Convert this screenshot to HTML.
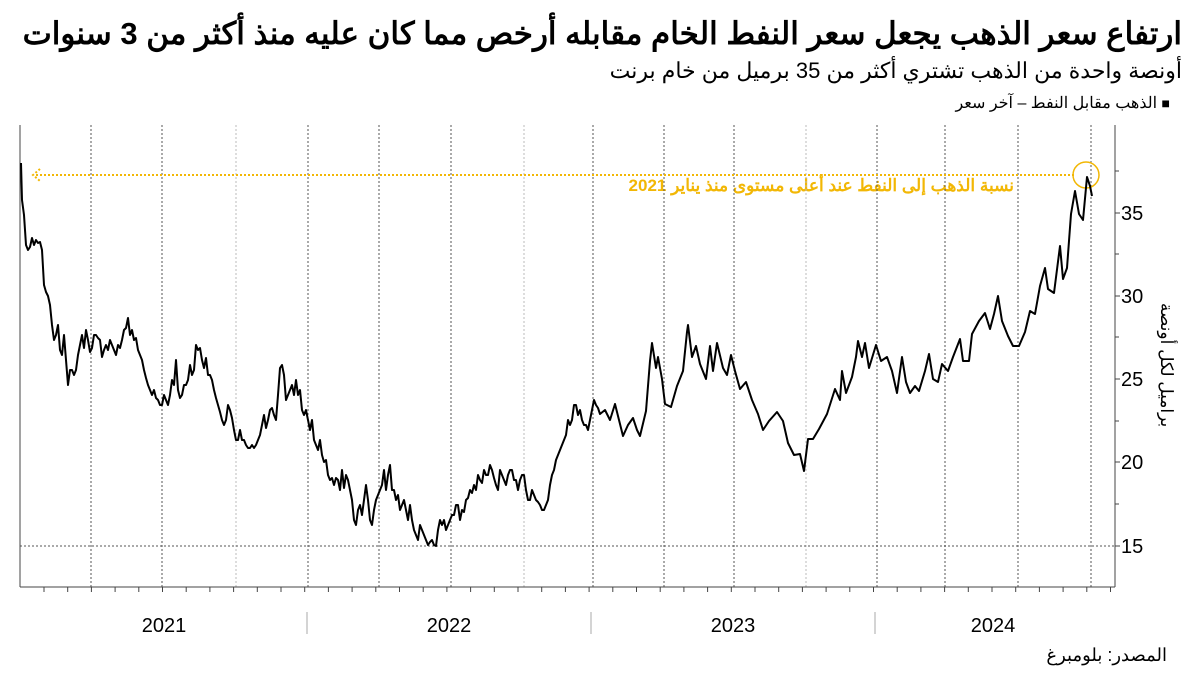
<!DOCTYPE html>
<html><head><meta charset="utf-8">
<style>
body{margin:0;width:1200px;height:675px;background:#fff;position:relative;overflow:hidden;font-family:"Liberation Sans","Noto Sans CJK SC",sans-serif;}
.t{position:absolute;direction:rtl;white-space:nowrap;color:#000;}
</style></head><body>
<div class="t" style="right:18px;top:16px;font-size:31px;font-weight:bold;">ارتفاع سعر الذهب يجعل سعر النفط الخام مقابله أرخص مما كان عليه منذ أكثر من 3 سنوات</div>
<div class="t" style="right:18px;top:58px;font-size:22px;">أونصة واحدة من الذهب تشتري أكثر من 35 برميل من خام برنت</div>
<div class="t" style="right:30px;top:93px;font-size:16px;"><span style="font-size:14px">■</span> الذهب مقابل النفط – آخر سعر</div>
<div class="t" style="right:186px;top:176px;font-size:17px;font-weight:bold;color:#f2b705;">نسبة الذهب إلى النفط عند أعلى مستوى منذ يناير 2021</div>
<div class="t" style="right:33px;top:645px;font-size:18px;">المصدر: بلومبرغ</div>
<div class="t" style="left:1166px;top:365px;font-size:17px;transform:translate(-50%,-50%) rotate(90deg);transform-origin:center;">براميل لكل أونصة</div>
<svg width="1200" height="675" style="position:absolute;left:0;top:0" xmlns="http://www.w3.org/2000/svg">
<g stroke="#555" stroke-width="1" stroke-dasharray="2,2">
<line x1="91" y1="125" x2="91" y2="587"/><line x1="162" y1="125" x2="162" y2="587"/><line x1="236" y1="125" x2="236" y2="587" stroke="#bbb"/><line x1="308" y1="125" x2="308" y2="587"/><line x1="379" y1="125" x2="379" y2="587"/><line x1="451" y1="125" x2="451" y2="587"/><line x1="524" y1="125" x2="524" y2="587" stroke="#bbb"/><line x1="593" y1="125" x2="593" y2="587"/><line x1="664" y1="125" x2="664" y2="587"/><line x1="734" y1="125" x2="734" y2="587"/><line x1="806" y1="125" x2="806" y2="587" stroke="#bbb"/><line x1="877" y1="125" x2="877" y2="587"/><line x1="945" y1="125" x2="945" y2="587"/><line x1="1018" y1="125" x2="1018" y2="587"/><line x1="1091" y1="125" x2="1091" y2="587"/>
<line x1="20" y1="546" x2="1115" y2="546"/>
</g>
<line x1="20" y1="125" x2="20" y2="587" stroke="#444"/>
<line x1="20" y1="587" x2="1115" y2="587" stroke="#444"/>
<line x1="1115" y1="125" x2="1115" y2="587" stroke="#444"/>
<g stroke="#444">
<line x1="1115" y1="213" x2="1120" y2="213"/><line x1="1115" y1="296" x2="1120" y2="296"/><line x1="1115" y1="379" x2="1120" y2="379"/><line x1="1115" y1="462" x2="1120" y2="462"/><line x1="1115" y1="546" x2="1120" y2="546"/>
<line x1="1115" y1="171" x2="1119" y2="171"/><line x1="1115" y1="254" x2="1119" y2="254"/><line x1="1115" y1="337" x2="1119" y2="337"/><line x1="1115" y1="421" x2="1119" y2="421"/><line x1="1115" y1="504" x2="1119" y2="504"/>
<line x1="307" y1="612" x2="307" y2="634" stroke="#aaa"/><line x1="591" y1="612" x2="591" y2="634" stroke="#aaa"/><line x1="875" y1="612" x2="875" y2="634" stroke="#aaa"/>
</g>
<g stroke="#444" id="mt"></g>
<g font-size="20" fill="#000" font-family="Liberation Sans, sans-serif">
<text x="1121" y="220">35</text><text x="1121" y="303">30</text><text x="1121" y="386">25</text><text x="1121" y="469">20</text><text x="1121" y="553">15</text>
<text x="164" y="632" text-anchor="middle">2021</text><text x="449" y="632" text-anchor="middle">2022</text><text x="733" y="632" text-anchor="middle">2023</text><text x="993" y="632" text-anchor="middle">2024</text>
</g>
<line x1="36" y1="175" x2="1075" y2="175" stroke="#f2b705" stroke-width="2" stroke-dasharray="2,2"/>
<path d="M40,169 L33,175 L40,181" fill="none" stroke="#f2b705" stroke-width="2" stroke-dasharray="2,2"/>
<circle cx="1086" cy="175" r="13" fill="none" stroke="#f2b705" stroke-width="1.5"/>
<polyline fill="none" stroke="#000" stroke-width="2" stroke-linejoin="round" points="21,163 22,200 24,215 26,245 28,250 30,247 32,238 34,245 36,240 38,243 40,242 42,250 44,285 46,292 48,296 50,305 52,325 54,340 56,335 58,325 60,350 62,355 64,335 66,360 68,385 70,370 72,370 74,375 76,370 78,355 80,345 82,335 84,348 86,330 88,340 90,352 92,348 94,335 96,335 98,338 100,340 102,357 104,350 106,345 108,350 110,340 112,345 114,350 116,355 118,345 120,348 122,340 124,330 126,328 128,318 130,335 132,330 134,340 136,338 138,350 140,355 142,360 144,370 146,378 148,385 150,390 152,395 154,390 156,398 158,400 160,405 162,405 164,395 166,400 168,405 170,395 172,380 174,385 176,360 178,390 180,398 182,395 184,385 186,385 188,380 190,365 192,375 194,370 196,345 198,350 200,348 202,360 204,368 206,358 208,375 210,375 212,380 214,390 216,398 218,405 220,412 222,420 224,425 226,420 228,405 230,410 232,418 234,430 236,440 238,440 240,430 242,440 244,440 246,445 248,448 250,448 252,445 254,448 256,445 258,440 260,435 262,425 264,415 266,428 268,420 270,410 272,408 274,415 276,420 278,395 280,368 282,365 284,375 286,400 288,395 290,390 292,385 294,395 296,380 298,395 300,390 302,410 304,415 306,410 308,420 310,430 312,420 314,440 316,445 318,450 320,440 322,455 324,462 326,460 328,475 330,480 332,478 334,485 336,478 338,480 340,490 342,470 344,488 346,475 348,480 350,490 352,500 354,520 356,525 358,510 360,505 362,515 364,500 366,485 368,500 370,520 372,525 374,510 376,500 378,495 380,490 382,485 384,470 386,490 388,475 390,465 392,490 394,490 396,500 398,495 400,510 402,505 404,500 406,510 408,520 410,505 412,520 414,530 416,535 418,540 420,525 422,530 424,535 426,540 428,545 430,542 432,540 434,545 436,546 438,530 440,520 442,525 444,520 446,530 448,525 450,520 452,515 454,515 456,505 458,505 460,520 462,510 464,512 466,500 468,498 470,490 472,493 474,485 476,490 478,475 480,480 482,483 484,470 486,475 488,475 490,465 492,470 494,478 496,485 498,490 500,470 502,475 504,480 506,485 508,475 510,470 512,470 514,480 516,480 518,490 520,480 522,475 524,475 526,490 528,500 530,500 532,490 534,495 536,500 538,502 540,505 542,510 544,510 546,505 548,500 550,485 552,475 554,470 556,460 558,455 560,450 562,445 564,440 566,435 568,420 570,425 572,420 574,405 576,405 578,415 580,410 582,420 584,425 586,425 588,430 590,420 592,410 594,400 596,405 598,408 600,414 605,410 610,420 615,404 619,420 623,436 628,425 633,418 637,430 640,436 646,411 650,361 652,343 656,368 658,357 662,379 665,404 671,407 677,386 683,371 687,332 688,325 692,357 696,346 700,364 706,379 710,346 713,371 717,343 723,368 727,375 731,355 735,371 740,389 746,382 752,400 758,414 763,430 769,421 777,412 783,421 788,443 794,455 800,454 804,471 808,439 813,439 819,429 827,414 835,389 840,400 842,371 846,393 852,377 856,357 858,341 862,357 865,343 869,368 876,345 881,361 887,357 892,371 897,393 902,357 906,382 910,393 915,386 919,391 925,371 929,354 933,379 938,382 942,364 948,371 953,357 960,339 963,361 969,361 972,334 979,321 985,313 990,329 994,314 998,296 1002,321 1008,336 1013,346 1019,346 1025,332 1030,311 1035,314 1040,286 1045,268 1048,289 1054,293 1060,246 1063,279 1067,268 1071,214 1075,191 1079,214 1083,220 1087,177 1090,186 1092,196"/>
</svg>
<script>
var g=document.getElementById('mt'),s='';
for(var x=44;x<1115;x+=23.7){s+='<line x1="'+x.toFixed(1)+'" y1="587" x2="'+x.toFixed(1)+'" y2="592"/>';}
g.innerHTML=s;
</script>
</body></html>
